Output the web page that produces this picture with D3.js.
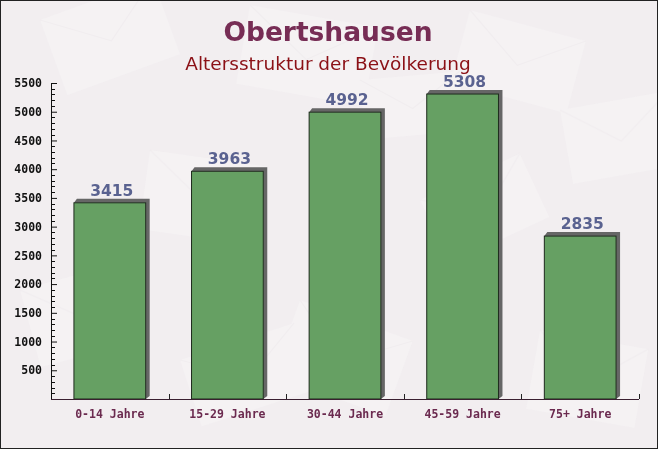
<!DOCTYPE html>
<html>
<head>
<meta charset="utf-8">
<script src="https://cdn.jsdelivr.net/npm/d3@7"></script>
<style>
  body { margin: 0; padding: 0; background: #fff; }
  svg { display: block; }
</style>
</head>
<body>
<div id="chart"></div>
<script>
// data
var categories = ["0-14 Jahre", "15-29 Jahre", "30-44 Jahre", "45-59 Jahre", "75+ Jahre"];
var values = [3415, 3963, 4992, 5308, 2835];
var yTicks = [500, 1000, 1500, 2000, 2500, 3000, 3500, 4000, 4500, 5000, 5500];
var titleText = "Obertshausen";
var subtitleText = "Altersstruktur der Bevölkerung";

var W = 658, H = 449;
var margin = {top: 83, right: 19, bottom: 50, left: 51},
    width = W - margin.left - margin.right,
    height = H - margin.top - margin.bottom;

var svg = d3.select("#chart").append("svg")
    .attr("width", W)
    .attr("height", H);

// background
svg.append("rect")
    .attr("width", W).attr("height", H)
    .attr("fill", "#f2eef0");

// faint envelope shapes in background
var deco = svg.append("g").attr("opacity", 0.45);
var envelopes = [
    [40, 20, 120, 80, -20], [250, 5, 130, 80, 10], [470, 10, 120, 75, 15],
    [560, 110, 110, 75, -10], [150, 150, 120, 80, 8], [420, 200, 110, 70, -25],
    [20, 290, 110, 80, -15], [300, 300, 120, 80, 20], [540, 330, 110, 80, 10],
    [180, 360, 120, 70, -18], [360, 80, 100, 60, -5]
];
envelopes.forEach(function (e) {
    var g = deco.append("g")
        .attr("transform", "translate(" + e[0] + "," + e[1] + ") rotate(" + e[4] + ")");
    g.append("rect")
        .attr("width", e[2]).attr("height", e[3])
        .attr("fill", "#f8f6f7");
    g.append("path")
        .attr("d", "M0,0L" + e[2] / 2 + "," + e[3] * 0.55 + "L" + e[2] + ",0")
        .attr("fill", "none").attr("stroke", "#efebed").attr("stroke-width", 1.2);
});

// border
svg.append("rect")
    .attr("x", 0.5).attr("y", 0.5)
    .attr("width", W - 1).attr("height", H - 1)
    .attr("fill", "none").attr("stroke", "#222");

// titles
svg.append("text")
    .attr("x", 328).attr("y", 41)
    .attr("text-anchor", "middle")
    .attr("font-family", "DejaVu Sans, sans-serif")
    .attr("font-weight", "bold")
    .attr("font-size", 26.5)
    .attr("fill", "#772d55")
    .text(titleText);

svg.append("text")
    .attr("x", 328).attr("y", 70)
    .attr("text-anchor", "middle")
    .attr("font-family", "DejaVu Sans, sans-serif")
    .attr("font-size", 18.5)
    .attr("fill", "#8b1016")
    .text(subtitleText);

var g = svg.append("g")
    .attr("transform", "translate(" + margin.left + "," + margin.top + ")");

var x = d3.scaleBand()
    .domain(categories)
    .range([0, width])
    .paddingInner(0.39)
    .paddingOuter(0.195);

var y = d3.scaleLinear()
    .domain([0, 5500])
    .range([height, 0]);

// bars: shadow first, then bar
var bars = g.selectAll(".bar")
    .data(values)
    .enter().append("g")
    .attr("class", "bar");

bars.append("path")
    .attr("fill", "#666")
    .attr("d", function (d, i) {
        var x0 = x(categories[i]), x1 = x0 + x.bandwidth(), y0 = y(d);
        return "M" + (x0 + 3) + "," + (y0 - 4) + "L" + (x1 + 4) + "," + (y0 - 4) +
            "L" + (x1 + 4) + "," + (height - 3) + "L" + x1 + "," + height +
            "L" + x1 + "," + y0 + "L" + x0 + "," + y0 + "Z";
    });

bars.append("rect")
    .attr("x", function (d, i) { return x(categories[i]); })
    .attr("y", function (d) { return y(d); })
    .attr("width", x.bandwidth())
    .attr("height", function (d) { return height - y(d); })
    .attr("fill", "#66a063")
    .attr("stroke", "#1d2a1c")
    .attr("stroke-width", 1);

// value labels
bars.append("text")
    .attr("x", function (d, i) { return x(categories[i]) + x.bandwidth() / 2 + 2; })
    .attr("y", function (d) { return y(d) - 7; })
    .attr("text-anchor", "middle")
    .attr("font-family", "DejaVu Sans, sans-serif")
    .attr("font-weight", "bold")
    .attr("font-size", 15.5)
    .attr("fill", "#5a6290")
    .text(function (d) { return d; });

// y axis
var yAxis = d3.axisLeft(y)
    .tickValues(yTicks)
    .tickFormat(d3.format("d"))
    .tickSize(5)
    .tickPadding(8);

var yG = g.append("g")
    .attr("class", "y axis")
    .call(yAxis);

// minor ticks
yG.selectAll(".minor")
    .data(d3.range(100, 5500, 100).filter(function (v) { return v % 500 !== 0; }))
    .enter().append("line")
    .attr("class", "minor")
    .attr("x1", 0).attr("x2", 4)
    .attr("y1", function (d) { return Math.round(y(d)) + 0.5; })
    .attr("y2", function (d) { return Math.round(y(d)) + 0.5; })
    .attr("stroke", "#111");

yG.selectAll(".tick line").attr("x2", 6).attr("x1", 0).attr("stroke", "#111");
yG.select(".domain").attr("stroke", "#111").attr("d", "M0.5,0V" + height);
yG.selectAll(".tick text")
    .attr("x", -9)
    .attr("font-family", "DejaVu Sans Mono, monospace")
    .attr("font-weight", "bold")
    .attr("font-size", 11.5)
    .attr("fill", "#111");

// x axis
var xAxis = d3.axisBottom(x).tickSize(0).tickPadding(11);
var xG = g.append("g")
    .attr("class", "x axis")
    .attr("transform", "translate(0," + height + ")")
    .call(xAxis);

xG.select(".domain").attr("stroke", "#3a1f30").attr("d", "M0,0.5H" + width);
xG.selectAll(".tick text")
    .attr("font-family", "DejaVu Sans Mono, monospace")
    .attr("font-weight", "bold")
    .attr("font-size", 11.5)
    .attr("fill", "#6b2a4f");

// boundary ticks between categories
xG.selectAll(".sep")
    .data(d3.range(1, categories.length + 1))
    .enter().append("line")
    .attr("class", "sep")
    .attr("x1", function (i) { return Math.round(x.step() * i) + 0.5; })
    .attr("x2", function (i) { return Math.round(x.step() * i) + 0.5; })
    .attr("y1", 0).attr("y2", -5)
    .attr("stroke", "#222");
</script>
</body>
</html>
